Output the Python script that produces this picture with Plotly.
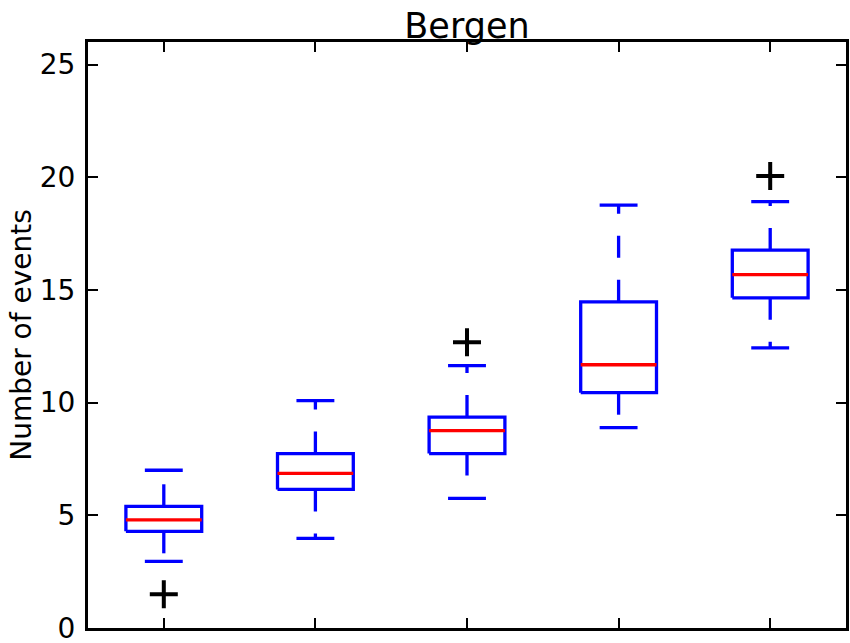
import plotly.graph_objects as go

# ---- data ----
positions = [1, 2, 3, 4, 5]
q1 = [4.29, 6.15, 7.74, 10.44, 14.65]
median = [4.80, 6.86, 8.76, 11.68, 15.68]
q3 = [5.40, 7.74, 9.36, 14.47, 16.77]
whisker_lo = [2.96, 3.98, 5.75, 8.89, 12.43]
whisker_hi = [7.00, 10.09, 11.64, 18.76, 18.92]
outliers = [[1.50], [], [12.68], [], [20.06]]
y_ticks = [0, 5, 10, 15, 20, 25]
title_text = "Bergen"
y_label = "Number of events"

BOX_HALF = 0.25
CAP_HALF = 0.125
BLUE = "#0000ff"
RED = "#ff0000"
LW = 3.3

fig = go.Figure()

for i, p in enumerate(positions):
    # box outline
    fig.add_trace(go.Scatter(
        x=[p - BOX_HALF, p + BOX_HALF, p + BOX_HALF, p - BOX_HALF, p - BOX_HALF],
        y=[q1[i], q1[i], q3[i], q3[i], q1[i]],
        mode="lines", line=dict(color=BLUE, width=LW),
        hoverinfo="skip", showlegend=False))
    # whiskers (dashed, starting at box)
    fig.add_trace(go.Scatter(
        x=[p, p], y=[q3[i], whisker_hi[i]],
        mode="lines", line=dict(color=BLUE, width=LW, dash="22px,22px"),
        hoverinfo="skip", showlegend=False))
    fig.add_trace(go.Scatter(
        x=[p, p], y=[q1[i], whisker_lo[i]],
        mode="lines", line=dict(color=BLUE, width=LW, dash="22px,22px"),
        hoverinfo="skip", showlegend=False))
    # caps
    fig.add_trace(go.Scatter(
        x=[p - CAP_HALF, p + CAP_HALF, None, p - CAP_HALF, p + CAP_HALF],
        y=[whisker_hi[i], whisker_hi[i], None, whisker_lo[i], whisker_lo[i]],
        mode="lines", line=dict(color=BLUE, width=LW),
        hoverinfo="skip", showlegend=False))
    # median
    fig.add_trace(go.Scatter(
        x=[p - BOX_HALF, p + BOX_HALF], y=[median[i], median[i]],
        mode="lines", line=dict(color=RED, width=LW),
        hoverinfo="skip", showlegend=False))
    # outliers
    if outliers[i]:
        fig.add_trace(go.Scatter(
            x=[p] * len(outliers[i]), y=outliers[i],
            mode="markers",
            marker=dict(symbol="cross-thin", size=20,
                        line=dict(color="black", width=4)),
            hoverinfo="skip", showlegend=False))

axis_common = dict(
    showgrid=False, zeroline=False,
    showline=True, linecolor="black", linewidth=3,
    mirror="ticks", ticks="inside", ticklen=10, tickwidth=1.5,
    tickcolor="black",
)

fig.update_layout(
    width=850, height=643,
    margin=dict(l=88, r=4, t=42, b=15, autoexpand=False),
    plot_bgcolor="white", paper_bgcolor="white",
    font=dict(family="DejaVu Sans", color="black"),
    title=dict(text=title_text, x=0.5, xanchor="center", xref="paper",
               y=1, yref="paper", yanchor="bottom", pad=dict(b=4),
               font=dict(size=35, color="black")),
    xaxis=dict(range=[0.5, 5.5], tickvals=positions, showticklabels=False,
               **axis_common),
    yaxis=dict(range=[0, 26], tickvals=y_ticks,
               ticktext=[str(t) for t in y_ticks],
               tickfont=dict(size=28), ticklabelstandoff=4,
               ticklabeloverflow="allow",
               title=dict(text=y_label, font=dict(size=28), standoff=0),
               **axis_common),
)

fig.write_html("out.html")
